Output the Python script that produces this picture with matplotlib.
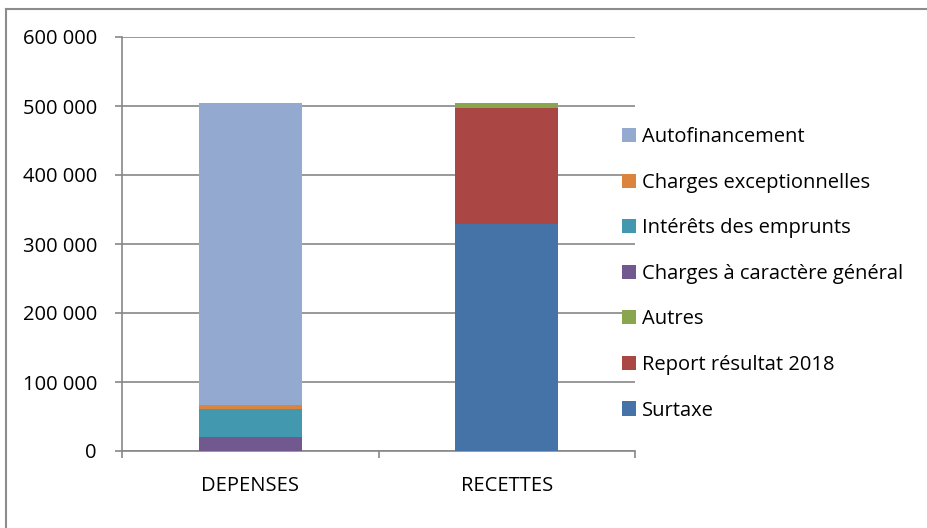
import numpy as np
import matplotlib
matplotlib.use("Agg")
import matplotlib.pyplot as plt
from matplotlib.ticker import FuncFormatter

plt.rcParams['font.family'] = ['Open Sans', 'DejaVu Sans']

categories = ["DEPENSES", "RECETTES"]
series_names = ["Surtaxe", "Report résultat 2018", "Autres",
                "Charges à caractère général", "Intérêts des emprunts",
                "Charges exceptionnelles", "Autofinancement"]
surtaxe = [0, 329000]
report_2018 = [0, 168500]
autres = [0, 7200]
charges_generales = [21000, 0]
interets = [40500, 0]
charges_exc = [4700, 0]
autofinancement = [438200, 0]
colors = ["#4572A7", "#AA4643", "#89A54E", "#71588F", "#4198AF", "#DB843D", "#93A9CF"]

series = [surtaxe, report_2018, autres, charges_generales, interets, charges_exc, autofinancement]

fig = plt.figure(figsize=(9.28, 5.28), dpi=100)
ax = fig.add_axes([122/928, 1-451/528, (635-122)/928, (451-37)/528])

x = np.arange(len(categories))
bottom = np.zeros(len(categories))
handles = []
for name, vals, c in zip(series_names, series, colors):
    b = ax.bar(x, vals, 0.4, bottom=bottom, color=c, label=name, zorder=3)
    handles.append(b)
    bottom += np.array(vals)

grey = "#878787"
ax.set_xlim(-0.5, 1.5)
ax.set_ylim(0, 600000)
ax.set_yticks(np.arange(0, 600001, 100000))
ax.yaxis.set_major_formatter(FuncFormatter(lambda v, p: f"{int(v):,}".replace(",", " ")))
ax.grid(axis="y", color=grey, linewidth=1.2, zorder=0)
ax.set_xticks(x)
ax.set_xticklabels(categories)
ax.set_xticks([-0.5, 0.5, 1.5], minor=True)
ax.tick_params(axis="x", which="major", length=0, pad=18, labelsize=14.5)
ax.tick_params(axis="x", which="minor", length=5, color=grey, width=1.2, direction="out")
ax.tick_params(axis="y", length=5, color=grey, width=1.2, labelsize=14.5, pad=13)
for s in ["top", "right"]:
    ax.spines[s].set_visible(False)
for s in ["left", "bottom"]:
    ax.spines[s].set_color(grey)
    ax.spines[s].set_linewidth(1.2)

leg = fig.legend(handles[::-1], series_names[::-1], loc="upper left",
                 bbox_to_anchor=(614/928, 1-119/528), frameon=False,
                 fontsize=14.5, handlelength=0.7, handleheight=0.7,
                 handletextpad=0.3, labelspacing=1.27, borderaxespad=0)

# cadre du graphique (bords gauche et haut visibles)
fig.add_artist(plt.Line2D([6/928, 6/928], [0, 1-9/528], transform=fig.transFigure, color="#8c8c8c", lw=1.5))
fig.add_artist(plt.Line2D([6/928, 1], [1-9/528, 1-9/528], transform=fig.transFigure, color="#8c8c8c", lw=1.5))

fig.savefig("out.png", dpi=100)
